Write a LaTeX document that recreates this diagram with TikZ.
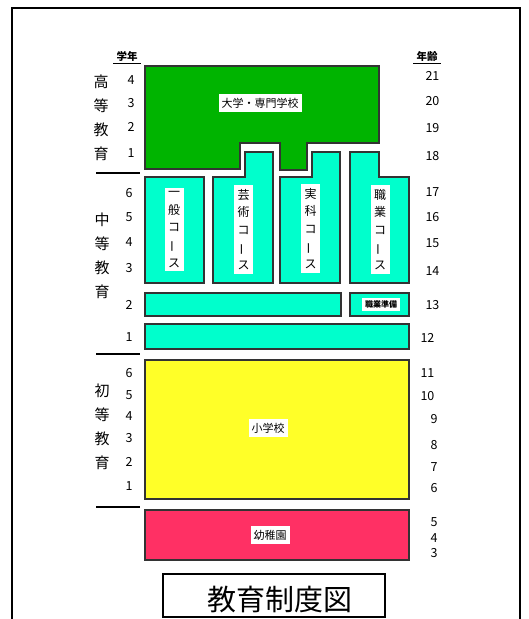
\documentclass[tikz,border=0pt]{standalone}
\usepackage{fontspec}
\setmainfont{Noto Sans CJK JP}
\definecolor{univgreen}{RGB}{0,180,0}
\definecolor{seccyan}{RGB}{0,255,204}
\definecolor{primyellow}{RGB}{255,255,40}
\definecolor{kinderpink}{RGB}{255,48,100}
\newcommand{\vchoon}{\rotatebox[origin=c]{90}{ー}}
\tikzset{
  blk/.style={draw=black!80, line width=1.1pt},
  sep/.style={line width=1.8pt},
  lbl/.style={fill=white, inner xsep=3pt, inner ysep=3.5pt, font=\fontsize{11}{11}\selectfont},
  vlbl/.style={fill=white, inner xsep=3.5pt, inner ysep=4pt, align=center, font=\fontsize{12}{17.6}\selectfont},
  num/.style={font=\fontsize{12.5}{12.5}\selectfont},
  agel/.style={font=\fontsize{12.5}{12.5}\selectfont, anchor=west},
  agec/.style={font=\fontsize{12.5}{12.5}\selectfont},
  stage/.style={align=center, font=\fontsize{15}{24}\selectfont},
  head/.style={font=\fontsize{10.5}{10.5}\selectfont\bfseries, inner sep=1pt},
}
\begin{document}
\begin{tikzpicture}[x=1pt,y=-1pt]
\useasboundingbox (0,0) rectangle (528,619);
% outer frame
\draw[line width=1.6pt] (12,619) -- (12,8) -- (520,8) -- (520,619);
% headers
\node[head] (gakunen) at (127,56) {学年};
\draw[line width=1pt] ([xshift=-2pt,yshift=-1.5pt]gakunen.south west) -- ([xshift=2pt,yshift=-1.5pt]gakunen.south east);
\node[head] (nenrei) at (427,56) {年齢};
\draw[line width=1pt] ([xshift=-2pt,yshift=-1.5pt]nenrei.south west) -- ([xshift=2pt,yshift=-1.5pt]nenrei.south east);
% university
\draw[blk, fill=univgreen] (145,66) -- (379,66) -- (379,143) -- (307,143) -- (307,170) -- (280,170) -- (280,143) -- (240,143) -- (240,169) -- (145,169) -- cycle;
% upper secondary courses
\draw[blk, fill=seccyan] (145,177) rectangle (204,283);
\draw[blk, fill=seccyan] (213,283) -- (213,177) -- (245,177) -- (245,152) -- (273,152) -- (273,283) -- cycle;
\draw[blk, fill=seccyan] (280,283) -- (280,177) -- (312,177) -- (312,152) -- (340,152) -- (340,283) -- cycle;
\draw[blk, fill=seccyan] (350,283) -- (350,152) -- (379,152) -- (379,177) -- (409,177) -- (409,283) -- cycle;
\draw[blk, fill=seccyan] (145,293) rectangle (341,316);
\draw[blk, fill=seccyan] (350,293) rectangle (409,316);
\draw[blk, fill=seccyan] (145,324) rectangle (409,349);
% primary
\draw[blk, fill=primyellow] (145,360) rectangle (409,499);
% kindergarten
\draw[blk, fill=kinderpink] (145,510) rectangle (409,560);
% labels
\node[lbl] (univ) at (260,103) {大学・専門学校};
\node[vlbl] (ippan) at (174,229.5) {一\\般\\コ\\\vchoon\\ス};
\node[vlbl] (geijutsu) at (243.5,229.5) {芸\\術\\コ\\\vchoon\\ス};
\node[vlbl] (jikka) at (310.5,228.5) {実\\科\\コ\\\vchoon\\ス};
\node[vlbl] (shokugyo) at (380,229.5) {職\\業\\コ\\\vchoon\\ス};
\node[fill=white, inner xsep=3pt, inner ysep=3pt, font=\fontsize{8}{8}\selectfont\bfseries] (junbi) at (381,304.5) {職業準備};
\node[lbl] (shogakko) at (268,428) {小学校};
\node[lbl] (yochien) at (270,535) {幼稚園};
% stage labels
\node[stage] (koto) at (101,117.5) {高\\等\\教\\育};
\node[stage] (chuto) at (102,255.5) {中\\等\\教\\育};
\node[stage] (shoto) at (102,427) {初\\等\\教\\育};
% separators
\draw[sep] (96,173) -- (140,173);
\draw[sep] (96,354) -- (140,354);
\draw[sep] (96,507) -- (140,507);
% grades
\node[num] (gh4) at (131,80) {4};
\node[num] (gh3) at (131,103) {3};
\node[num] (gh2) at (131,127) {2};
\node[num] (gh1) at (131,153) {1};
\node[num] (gs6) at (129,193) {6};
\node[num] (gs5) at (129,217) {5};
\node[num] (gs4) at (129,242) {4};
\node[num] (gs3) at (129,268) {3};
\node[num] (gs2) at (129,305) {2};
\node[num] (gs1) at (129,337) {1};
\node[num] (gp6) at (129,373) {6};
\node[num] (gp5) at (129,395) {5};
\node[num] (gp4) at (129,416) {4};
\node[num] (gp3) at (129,438) {3};
\node[num] (gp2) at (129,462) {2};
\node[num] (gp1) at (129,486) {1};
% ages
\node[agel] (a21) at (422,76) {21};
\node[agel] (a20) at (422,101) {20};
\node[agel] (a19) at (422,128) {19};
\node[agel] (a18) at (422,156) {18};
\node[agel] (a17) at (422,192) {17};
\node[agel] (a16) at (422,217) {16};
\node[agel] (a15) at (422,243) {15};
\node[agel] (a14) at (422,271) {14};
\node[agel] (a13) at (422,305) {13};
\node[agel] (a12) at (417,338) {12};
\node[agel] (a11) at (417,373) {11};
\node[agel] (a10) at (417,396) {10};
\node[agec] (a9) at (434,419) {9};
\node[agec] (a8) at (434,445) {8};
\node[agec] (a7) at (434,467) {7};
\node[agec] (a6) at (434,488) {6};
\node[agec] (a5) at (434,522) {5};
\node[agec] (a4) at (434,538) {4};
\node[agec] (a3) at (434,553) {3};
% title
\draw[line width=1.1pt] (163,574) rectangle (385,617);
\node[font=\fontsize{29}{29}\selectfont, inner sep=0pt] (title) at (280,600) {教育制度図};
\end{tikzpicture}
\end{document}
